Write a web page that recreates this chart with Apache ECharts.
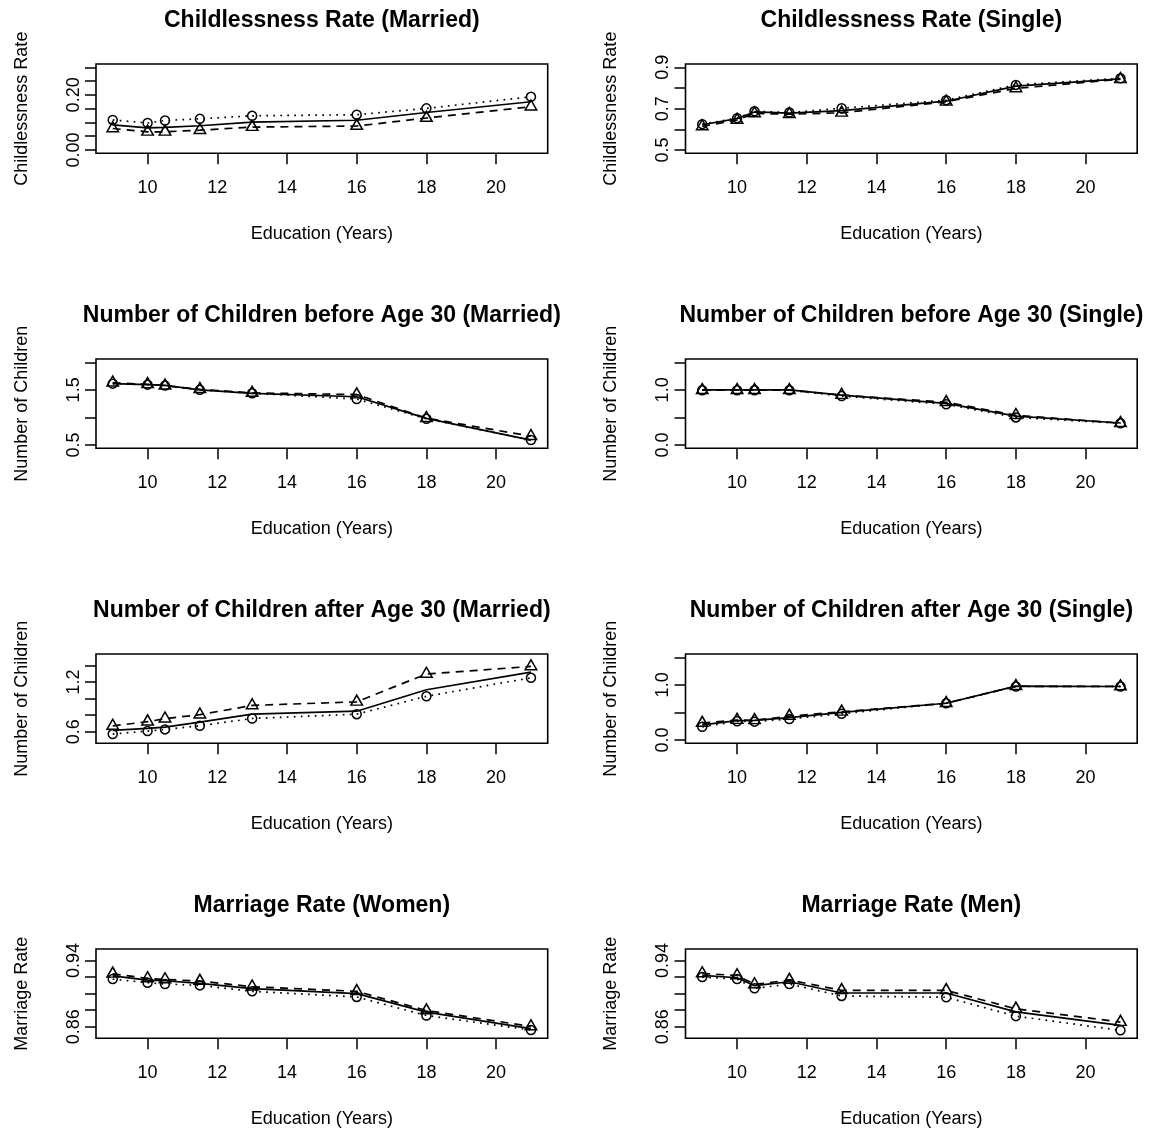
<!DOCTYPE html>
<html>
<head>
<meta charset="utf-8">
<script src="https://cdn.jsdelivr.net/npm/echarts@6/dist/echarts.min.js"></script>
<style>
html,body{margin:0;padding:0;background:#fff;}
#chart{width:1155px;height:1131px;}
</style>
</head>
<body>
<div id="chart"></div>
<script>
// ---------- data ----------
const education = [9, 10, 10.5, 11.5, 13, 16, 18, 21];
const xTicks = [10, 12, 14, 16, 18, 20];
const xRange = [9, 21];

const titles = [
  "Childlessness Rate (Married)",
  "Childlessness Rate (Single)",
  "Number of Children before Age 30 (Married)",
  "Number of Children before Age 30 (Single)",
  "Number of Children after Age 30 (Married)",
  "Number of Children after Age 30 (Single)",
  "Marriage Rate (Women)",
  "Marriage Rate (Men)"
];
const yNames = [
  "Childlessness Rate", "Childlessness Rate",
  "Number of Children", "Number of Children",
  "Number of Children", "Number of Children",
  "Marriage Rate", "Marriage Rate"
];
const xName = "Education (Years)";

// y limits (before the 4% R-style extension)
const yLimits = [[0, 0.3], [0.5, 0.9], [0.5, 2.0], [0, 1.5], [0.5, 1.5], [0, 1.5], [0.85, 0.95], [0.85, 0.95]];
// y tick marks
const yTicks = [
  [0, 0.05, 0.1, 0.15, 0.2, 0.25, 0.3],
  [0.5, 0.6, 0.7, 0.8, 0.9],
  [0.5, 1.0, 1.5, 2.0],
  [0, 0.5, 1.0, 1.5],
  [0.6, 0.8, 1.0, 1.2, 1.4],
  [0, 0.5, 1.0, 1.5],
  [0.86, 0.88, 0.9, 0.92, 0.94],
  [0.86, 0.88, 0.9, 0.92, 0.94]
];
// y tick labels that are drawn
const yLabels = [
  [0, 0.2],
  [0.5, 0.7, 0.9],
  [0.5, 1.5],
  [0, 1.0],
  [0.6, 1.2],
  [0, 1.0],
  [0.86, 0.94],
  [0.86, 0.94]
];
const yDecimals = [2, 1, 1, 1, 1, 1, 2, 2];

// Childlessness rate (married)
const cmSolid    = [0.091, 0.080, 0.082, 0.088, 0.101, 0.108, 0.136, 0.175];
const cmCircle   = [0.109, 0.098, 0.107, 0.113, 0.124, 0.128, 0.151, 0.193];
const cmTriangle = [0.078, 0.066, 0.066, 0.072, 0.083, 0.087, 0.116, 0.157];
// Childlessness rate (single)
const csSolid    = [0.622, 0.652, 0.684, 0.678, 0.690, 0.736, 0.809, 0.844];
const csCircle   = [0.625, 0.654, 0.687, 0.681, 0.702, 0.741, 0.815, 0.847];
const csTriangle = [0.614, 0.645, 0.677, 0.673, 0.680, 0.733, 0.798, 0.842];
// Children before 30 (married)
const bmSolid    = [1.613, 1.595, 1.583, 1.500, 1.435, 1.375, 0.982, 0.589];
const bmCircle   = [1.613, 1.595, 1.577, 1.500, 1.440, 1.333, 0.976, 0.589];
const bmTriangle = [1.630, 1.600, 1.576, 1.511, 1.445, 1.415, 0.987, 0.660];
// Children before 30 (single)
const bsSolid    = [1.000, 1.000, 1.000, 1.000, 0.905, 0.756, 0.524, 0.399];
const bsCircle   = [0.994, 0.994, 0.994, 0.994, 0.887, 0.738, 0.500, 0.393];
const bsTriangle = [0.995, 0.993, 0.993, 0.995, 0.905, 0.775, 0.540, 0.395];
// Children after 30 (married)
const amSolid    = [0.616, 0.640, 0.656, 0.716, 0.812, 0.848, 1.108, 1.320];
const amCircle   = [0.572, 0.608, 0.628, 0.672, 0.760, 0.812, 1.028, 1.252];
const amTriangle = [0.670, 0.722, 0.758, 0.806, 0.918, 0.962, 1.298, 1.390];
// Children after 30 (single)
const asSolid    = [0.274, 0.351, 0.357, 0.405, 0.500, 0.667, 0.976, 0.970];
const asCircle   = [0.238, 0.339, 0.333, 0.381, 0.476, 0.667, 0.970, 0.970];
const asTriangle = [0.308, 0.362, 0.356, 0.433, 0.511, 0.667, 0.975, 0.972];
// Marriage rate (women)
const mwSolid    = [0.9216, 0.9164, 0.9156, 0.9124, 0.9060, 0.9000, 0.8776, 0.8576];
const mwCircle   = [0.9176, 0.9132, 0.9116, 0.9100, 0.9028, 0.8960, 0.8736, 0.8560];
const mwTriangle = [0.9240, 0.9184, 0.9172, 0.9152, 0.9084, 0.9028, 0.8796, 0.8604];
// Marriage rate (men)
const mmSolid    = [0.9220, 0.9192, 0.9096, 0.9144, 0.9008, 0.9008, 0.8780, 0.8616];
const mmCircle   = [0.9200, 0.9176, 0.9064, 0.9116, 0.8972, 0.8956, 0.8728, 0.8556];
const mmTriangle = [0.9244, 0.9220, 0.9112, 0.9164, 0.9040, 0.9040, 0.8816, 0.8656];

const solids    = [cmSolid, csSolid, bmSolid, bsSolid, amSolid, asSolid, mwSolid, mmSolid];
const circles   = [cmCircle, csCircle, bmCircle, bsCircle, amCircle, asCircle, mwCircle, mmCircle];
const triangles = [cmTriangle, csTriangle, bmTriangle, bsTriangle, amTriangle, asTriangle, mwTriangle, mmTriangle];

// ---------- layout ----------
const FONT = "Liberation Sans, Arial, Helvetica, sans-serif";
const BOX_LEFT = 96, BOX_TOP = 64, BOX_W = 451.7, BOX_H = 89.3;
const COL_STEP = 589.5, ROW_STEP = 295;
const ext = (r) => { const d = (r[1] - r[0]) * 0.04; return [r[0] - d, r[1] + d]; };
const xExt = ext(xRange);

const grids = [], xAxes = [], yAxes = [], series = [], titleList = [];
const zip = (ys) => education.map((x, k) => [x, ys[k]]);

for (let i = 0; i < 8; i++) {
  const col = i % 2, row = Math.floor(i / 2);
  const left = BOX_LEFT + COL_STEP * col;
  const top = BOX_TOP + ROW_STEP * row;
  grids.push({
    left: left, top: top, width: BOX_W, height: BOX_H,
    show: true, borderColor: '#000', borderWidth: 1.6,
    backgroundColor: 'transparent', containLabel: false
  });
  titleList.push({
    text: titles[i], left: left + BOX_W / 2, top: top - 55, textAlign: 'center', padding: 0,
    textStyle: { fontSize: 23, fontWeight: 'bold', color: '#000', fontFamily: FONT }
  });
  xAxes.push({
    gridIndex: i, type: 'value', min: xExt[0], max: xExt[1],
    axisLine: { show: false, onZero: false },
    splitLine: { show: false },
    axisTick: { show: true, inside: false, length: 11, customValues: xTicks,
      lineStyle: { color: '#000', width: 1.5 } },
    axisLabel: { customValues: xTicks, margin: 26, fontSize: 18, color: '#000', fontFamily: FONT },
    name: xName, nameLocation: 'middle', nameGap: 72,
    nameTextStyle: { fontSize: 18, color: '#000', fontFamily: FONT }
  });
  const ye = ext(yLimits[i]);
  const dec = yDecimals[i];
  yAxes.push({
    gridIndex: i, type: 'value', min: ye[0], max: ye[1],
    axisLine: { show: false, onZero: false },
    splitLine: { show: false },
    axisTick: { show: true, inside: false, length: 11, customValues: yTicks[i],
      lineStyle: { color: '#000', width: 1.5 } },
    axisLabel: { customValues: yLabels[i], rotate: 90, margin: 13, fontSize: 18, color: '#000',
      fontFamily: FONT, formatter: (v) => Number(v).toFixed(dec) },
    name: yNames[i], nameLocation: 'middle', nameGap: 65, nameRotate: 90,
    nameTextStyle: { fontSize: 18, color: '#000', fontFamily: FONT }
  });
  series.push({
    type: 'line', xAxisIndex: i, yAxisIndex: i, data: zip(solids[i]),
    symbol: 'none', silent: true, z: 3,
    lineStyle: { color: '#000', width: 1.7, type: 'solid' }
  });
  series.push({
    type: 'line', xAxisIndex: i, yAxisIndex: i, data: zip(circles[i]),
    symbol: 'circle', symbolSize: 9, showAllSymbol: true, silent: true, z: 4,
    itemStyle: { color: 'rgba(0,0,0,0)', borderColor: '#000', borderWidth: 1.5 },
    lineStyle: { color: '#000', width: 1.7, type: [1.7, 5.3] }
  });
  series.push({
    type: 'line', xAxisIndex: i, yAxisIndex: i, data: zip(triangles[i]),
    symbol: 'triangle', symbolSize: [11.5, 10], symbolOffset: [0, -1.7], showAllSymbol: true, silent: true, z: 5,
    itemStyle: { color: 'rgba(0,0,0,0)', borderColor: '#000', borderWidth: 1.5 },
    lineStyle: { color: '#000', width: 1.7, type: [8, 6] }
  });
}

const chart = echarts.init(document.getElementById('chart'), null, { renderer: 'canvas' });
chart.setOption({
  animation: false,
  backgroundColor: '#fff',
  title: titleList,
  grid: grids,
  xAxis: xAxes,
  yAxis: yAxes,
  series: series
});
</script>
</body>
</html>
